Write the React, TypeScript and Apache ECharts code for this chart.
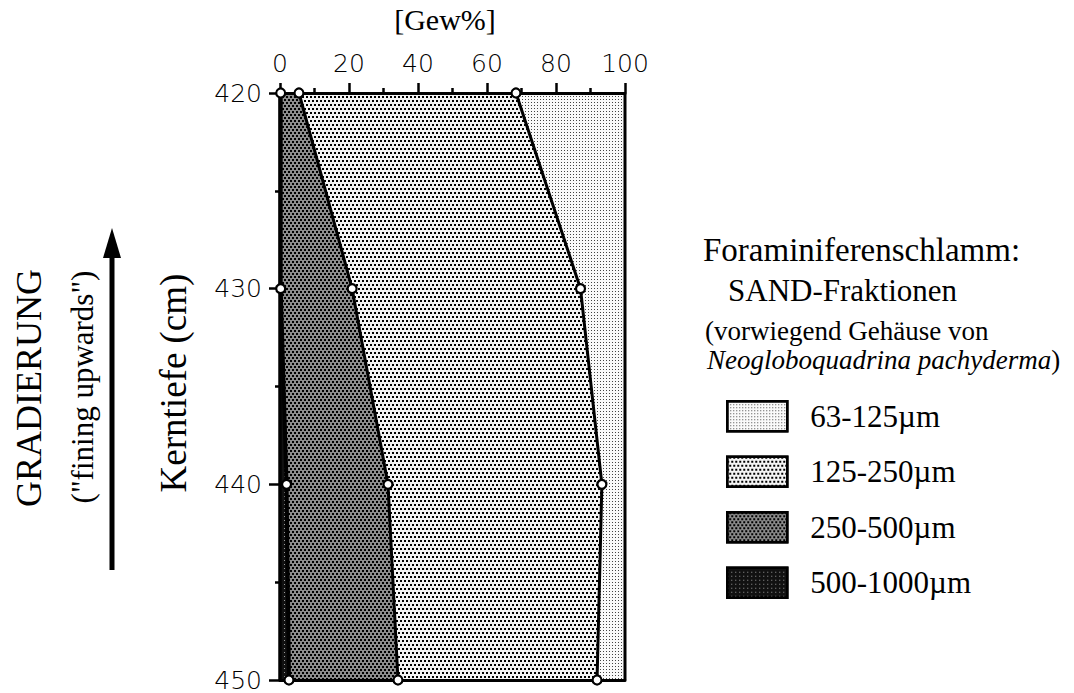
import React, { useEffect, useRef } from "react";
import * as echarts from "echarts";

// Depth categories (cm)
const depths = ["420", "430", "440", "450"];
// Weight percentages of each sand fraction at each depth (stacked from the left)
const f500_1000 = [0.2, 0.2, 1.9, 2.6];
const f250_500 = [5.3, 20.7, 29.4, 31.6];
const f125_250 = [62.9, 66.2, 62.0, 57.7];
const f63_125 = [31.6, 12.9, 6.7, 8.1];

const names = ["500-1000µm", "250-500µm", "125-250µm", "63-125µm"];
const legendOrder = ["63-125µm", "125-250µm", "250-500µm", "500-1000µm"];

const fills: Record<string, string> = {
  "500-1000µm": "#111111",
  "250-500µm": "#8c8c8c",
  "125-250µm": "#f4f4f4",
  "63-125µm": "#fafafa",
};

const decals: Record<string, any> = {
  "500-1000µm": { symbol: "rect", symbolSize: 1, color: "#9a9a9a", dashArrayX: [1, 3], dashArrayY: [1, 3] },
  "250-500µm": { symbol: "rect", symbolSize: 1, color: "#000000", dashArrayX: [[2, 2], [0, 2, 2, 0]], dashArrayY: [2, 1] },
  "125-250µm": { symbol: "rect", symbolSize: 1, color: "#000000", dashArrayX: [[2, 2], [0, 2, 2, 0]], dashArrayY: [2, 2] },
  "63-125µm": { symbol: "rect", symbolSize: 1, color: "#444444", dashArrayX: [1, 2], dashArrayY: [1, 2] },
};

export default function App() {
  const ref = useRef<HTMLDivElement>(null);
  useEffect(() => {
    if (!ref.current) return;
    const chart = echarts.init(ref.current, undefined, { renderer: "svg" });
    const values = [f500_1000, f250_500, f125_250, f63_125];

    const areaSeries = names.map((n, i) => ({
      name: n,
      type: "line",
      stack: "sand",
      xAxisIndex: 0,
      yAxisIndex: 0,
      data: values[i],
      showSymbol: false,
      symbol: "none",
      clip: false,
      z: 2,
      lineStyle: { color: "#000", width: i === 0 ? 4 : 3 },
      itemStyle: { color: fills[n], decal: decals[n] },
      areaStyle: { color: fills[n], opacity: 1 },
    }));

    const markerSeries = values.slice(0, 3).map((v, i) => ({
      name: "pts" + i,
      type: "line",
      stack: "pts",
      xAxisIndex: 0,
      yAxisIndex: 0,
      data: v,
      symbol: "circle",
      symbolSize: 9,
      showSymbol: true,
      clip: false,
      z: 12,
      lineStyle: { width: 0, opacity: 0 },
      itemStyle: { color: "#fff", borderColor: "#000", borderWidth: 2.2 },
    }));

    const numFont = { fontFamily: "DejaVu Sans", fontSize: 25, fontWeight: 200, color: "#000" };

    chart.setOption({
      animation: false,
      backgroundColor: "#fff",
      grid: { left: 280, top: 93, right: 449, bottom: 13, containLabel: false },
      xAxis: [
        {
          type: "value",
          position: "top",
          min: 0,
          max: 100,
          interval: 20,
          z: 10,
          axisLine: { show: true, lineStyle: { color: "#000", width: 3 } },
          axisTick: { show: true, length: 10, lineStyle: { color: "#000", width: 2.5 } },
          minorTick: { show: true, splitNumber: 2, length: 5, lineStyle: { color: "#000", width: 2.5 } },
          splitLine: { show: false },
          axisLabel: { ...numFont, margin: 17 },
        },
        {
          type: "value",
          position: "bottom",
          min: 0,
          max: 100,
          z: 10,
          axisLine: { show: true, onZero: false, lineStyle: { color: "#000", width: 3 } },
          axisTick: { show: false },
          splitLine: { show: false },
          axisLabel: { show: false },
        },
      ],
      yAxis: [
        {
          type: "category",
          data: depths,
          inverse: true,
          boundaryGap: false,
          show: false,
        },
        {
          type: "value",
          position: "left",
          min: 420,
          max: 450,
          interval: 10,
          inverse: true,
          z: 10,
          axisLine: { show: true, onZero: false, lineStyle: { color: "#000", width: 3.5 } },
          axisTick: { show: true, length: 11, lineStyle: { color: "#000", width: 2.5 } },
          minorTick: { show: true, splitNumber: 2, length: 5, lineStyle: { color: "#000", width: 2.5 } },
          splitLine: { show: false },
          axisLabel: { ...numFont, margin: 18 },
        },
      ],
      legend: {
        orient: "vertical",
        left: 726,
        top: 400,
        padding: 0,
        itemWidth: 60,
        itemHeight: 30,
        itemGap: 23,
        icon: "rect",
        selectedMode: false,
        textStyle: { fontFamily: "Liberation Serif", fontSize: 31, color: "#000", padding: [0, 0, 0, 18] },
        data: legendOrder.map((n) => ({
          name: n,
          itemStyle: { color: fills[n], borderColor: "#000", borderWidth: 2.5 },
        })),
      },
      graphic: [
        {
          type: "text",
          style: { text: "[Gew%]", x: 445, y: 19, textAlign: "center", textVerticalAlign: "middle", font: "30px 'Liberation Serif'", fill: "#000" },
        },
        {
          type: "text",
          rotation: Math.PI / 2,
          x: 29,
          y: 388,
          style: { text: "GRADIERUNG", x: 0, y: 0, textAlign: "center", textVerticalAlign: "middle", font: "36px 'Liberation Serif'", fill: "#000" },
        },
        {
          type: "text",
          rotation: Math.PI / 2,
          x: 82,
          y: 387,
          style: { text: '("fining upwards")', x: 0, y: 0, textAlign: "center", textVerticalAlign: "middle", font: "31px 'Liberation Serif'", fill: "#000" },
        },
        {
          type: "text",
          rotation: Math.PI / 2,
          x: 173,
          y: 383,
          style: { text: "Kerntiefe (cm)", x: 0, y: 0, textAlign: "center", textVerticalAlign: "middle", font: "37px 'Liberation Serif'", fill: "#000" },
        },
        {
          type: "line",
          shape: { x1: 112, y1: 570, x2: 112, y2: 255 },
          style: { stroke: "#000", lineWidth: 5 },
        },
        {
          type: "polygon",
          shape: { points: [[103, 258], [121, 258], [112, 228]] },
          style: { fill: "#000" },
        },
        {
          type: "text",
          style: { text: "Foraminiferenschlamm:", x: 703, y: 250, textVerticalAlign: "middle", font: "33px 'Liberation Serif'", fill: "#000" },
        },
        {
          type: "text",
          style: { text: "SAND-Fraktionen", x: 728, y: 290, textVerticalAlign: "middle", font: "31px 'Liberation Serif'", fill: "#000" },
        },
        {
          type: "text",
          style: { text: "(vorwiegend Gehäuse von", x: 705, y: 331, textVerticalAlign: "middle", font: "27px 'Liberation Serif'", fill: "#000" },
        },
        {
          type: "text",
          style: {
            text: "{i|Neogloboquadrina pachyderma}{n|)}",
            x: 707,
            y: 360,
            textVerticalAlign: "middle",
            rich: {
              i: { fontFamily: "Liberation Serif", fontStyle: "italic", fontSize: 27, fill: "#000" },
              n: { fontFamily: "Liberation Serif", fontSize: 27, fill: "#000" },
            },
          },
        },
      ],
      series: [...areaSeries, ...markerSeries],
    });
    return () => chart.dispose();
  }, []);
  return (
    <div
      ref={ref}
      style={{ position: "fixed", left: 0, top: 0, width: 1074, height: 693 }}
    />
  );
}
